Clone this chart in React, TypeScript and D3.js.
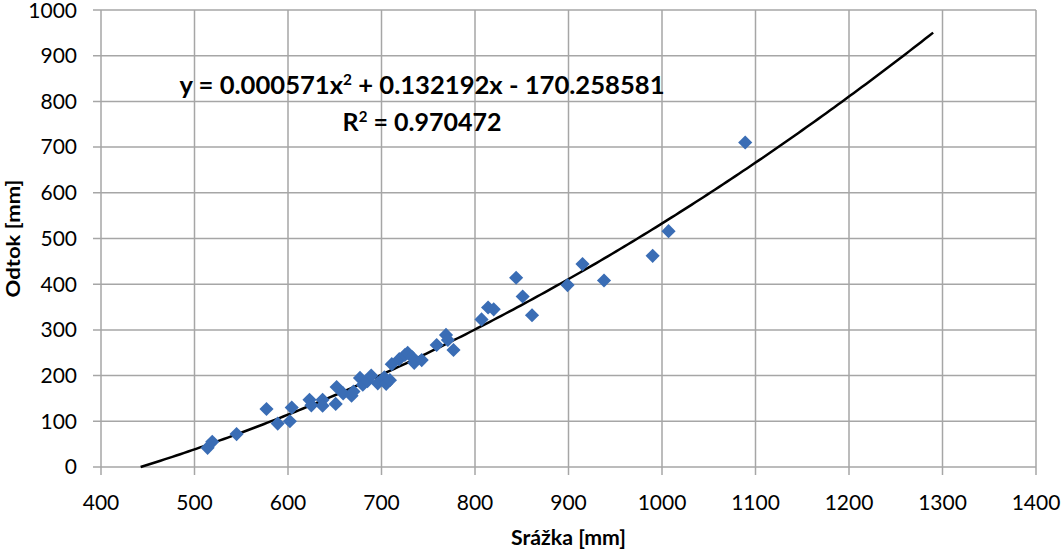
import React from "react";
import * as d3 from "d3";

const xTicks = [400, 500, 600, 700, 800, 900, 1000, 1100, 1200, 1300, 1400];
const yTicks = [0, 100, 200, 300, 400, 500, 600, 700, 800, 900, 1000];

const srazka = [514, 519, 545, 577, 589, 602, 604, 623, 625, 637, 637, 651, 652, 659, 668, 670, 677, 680, 685, 689, 696, 703, 705, 709, 711, 719, 725, 728, 733, 735, 743, 759, 769, 771, 777, 807, 814, 820, 844, 851, 861, 899, 915, 938, 990, 1007, 1089];
const odtok = [42, 55, 72, 127, 95, 100, 130, 147, 135, 147, 134, 138, 175, 161, 156, 165, 195, 180, 188, 200, 183, 196, 182, 190, 225, 236, 245, 250, 240, 228, 234, 267, 289, 278, 256, 323, 349, 345, 414, 373, 332, 398, 444, 408, 462, 516, 710];

const coefA = 0.000571;
const coefB = 0.132192;
const coefC = -170.258581;
const trendStart = 442.4;
const trendEnd = 1290;

export default function App() {
  const W = 1063, H = 552;
  const left = 101, right = 1036, top = 10, bottom = 467;
  const x = d3.scaleLinear().domain([400, 1400]).range([left, right]);
  const y = d3.scaleLinear().domain([0, 1000]).range([bottom, top]);

  const trendPts: [number, number][] = d3.range(trendStart, trendEnd + 0.01, (trendEnd - trendStart) / 200).map((v) => [v, coefA * v * v + coefB * v + coefC]);
  const line = d3.line<[number, number]>().x((d) => x(d[0])).y((d) => y(Math.max(0, d[1])));
  const sym = d3.symbol().type(d3.symbolSquare).size(100)();
  const font = "Lato, 'Open Sans', sans-serif";
  const grid = "#a6a6a6";

  return (
    <svg width={W} height={H} style={{ position: "absolute", left: 0, top: 0 }}>
      <rect width={W} height={H} fill="#fff" />
      {xTicks.map((t) => (
        <line key={"gx" + t} x1={x(t)} x2={x(t)} y1={top} y2={bottom + 8} stroke={grid} strokeWidth={1.5} />
      ))}
      {yTicks.map((t) => (
        <line key={"gy" + t} x1={left - 8} x2={right} y1={y(t)} y2={y(t)} stroke={grid} strokeWidth={1.5} />
      ))}
      {yTicks.map((t) => (
        <text key={"ty" + t} x={77} y={y(t) + (t === 1000 ? 1 : 0)} dy="0.35em" textAnchor="end" fontFamily={font} fontSize={21} fill="#000">{t}</text>
      ))}
      {xTicks.map((t) => (
        <text key={"tx" + t} x={x(t)} y={503} dy="0.35em" textAnchor="middle" fontFamily={font} fontSize={21} fill="#000">{t}</text>
      ))}
      <text transform={`translate(13,${(top + bottom) / 2}) rotate(-90)`} textAnchor="middle" dy="0.35em" fontFamily={font} fontWeight="bold" fontSize={19} textLength={118} lengthAdjust="spacingAndGlyphs">Odtok [mm]</text>
      <text x={(left + right) / 2} y={538} textAnchor="middle" dy="0.35em" fontFamily={font} fontWeight="bold" fontSize={20} textLength={115} lengthAdjust="spacingAndGlyphs">Srážka [mm]</text>
      <path d={line(trendPts) || ""} fill="none" stroke="#000" strokeWidth={2.5} />
      {srazka.map((v, i) => (
        <path key={"p" + i} d={sym || ""} transform={`translate(${x(v)},${y(odtok[i])}) rotate(45)`} fill="#3a6db5" />
      ))}
      <text x={422} y={85} textAnchor="middle" dy="0.35em" fontFamily={font} fontWeight="bold" fontSize={25} textLength={485} lengthAdjust="spacingAndGlyphs">
        y = 0.000571x<tspan dy="-9" fontSize={15}>2</tspan><tspan dy="9"> + 0.132192x - 170.258581</tspan>
      </text>
      <text x={422} y={122} textAnchor="middle" dy="0.35em" fontFamily={font} fontWeight="bold" fontSize={25}>
        R<tspan dy="-9" fontSize={15}>2</tspan><tspan dy="9"> = 0.970472</tspan>
      </text>
    </svg>
  );
}
